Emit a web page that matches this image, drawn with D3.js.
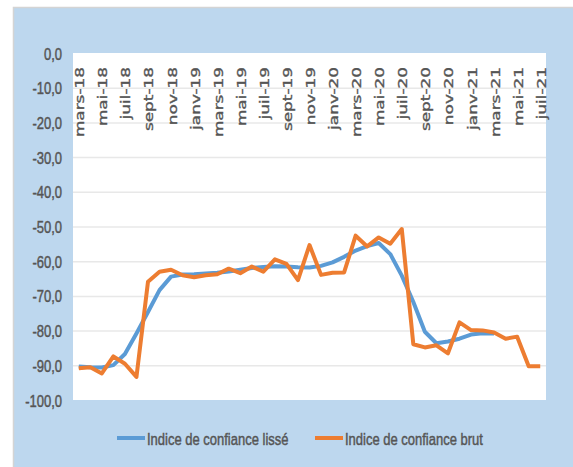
<!DOCTYPE html>
<html>

<head>
    <title>Indice de confiance</title>
    <meta charset="utf-8">
    <script src="https://cdnjs.cloudflare.com/ajax/libs/d3/7.8.5/d3.min.js" type="text/JavaScript"></script>
    <style>
        body { margin: 0; background: #fff; }
        svg { display: block; }
        .ylab { font-family: "Liberation Sans", Arial, sans-serif; font-size: 13px; fill: #555; stroke: #555; stroke-width: 0.35px; }
        .xlab { font-family: "DejaVu Sans", Verdana, sans-serif; font-size: 13px; fill: #555; stroke: #555; stroke-width: 0.35px; }
        .leg { font-family: "Liberation Sans", Arial, sans-serif; font-size: 13px; fill: #555; stroke: #555; stroke-width: 0.35px; }
    </style>
</head>

<body>
    <svg width="573" height="467"></svg>
    <script>
        // months mars-18 .. juil-21
        var months = ["mars-18", "avr-18", "mai-18", "juin-18", "juil-18", "août-18", "sept-18", "oct-18", "nov-18", "déc-18",
            "janv-19", "févr-19", "mars-19", "avr-19", "mai-19", "juin-19", "juil-19", "août-19", "sept-19", "oct-19", "nov-19", "déc-19",
            "janv-20", "févr-20", "mars-20", "avr-20", "mai-20", "juin-20", "juil-20", "août-20", "sept-20", "oct-20", "nov-20", "déc-20",
            "janv-21", "févr-21", "mars-21", "avr-21", "mai-21", "juin-21", "juil-21"];

        var lisse = [-90.2, -90.4, -90.5, -89.8, -86.6, -80.7, -74.5, -68.2, -64.3, -63.7,
            -63.6, -63.4, -63.2, -62.8, -62.3, -61.8, -61.5, -61.3, -61.4, -61.6, -61.7, -61.2,
            -60.2, -58.6, -56.8, -55.5, -54.6, -57.8, -64.0, -71.6, -80.2, -83.5, -83.0, -82.2,
            -81.0, -80.6, -80.7, null, null, null, null];

        var brut = [-90.7, -90.4, -92.2, -87.3, -89.4, -93.2, -65.8, -62.9, -62.3, -63.9,
            -64.5, -63.9, -63.6, -62.0, -63.3, -61.4, -62.9, -59.3, -60.6, -65.3, -55.2, -63.8,
            -63.2, -63.1, -52.5, -55.6, -53.0, -54.8, -50.6, -83.8, -84.7, -84.1, -86.4, -77.5,
            -79.7, -79.8, -80.4, -82.2, -81.6, -90.1, -90.1];

        var yTicks = [0, -10, -20, -30, -40, -50, -60, -70, -80, -90, -100];
        var seriesNames = ["Indice de confiance lissé", "Indice de confiance brut"];
        var seriesColors = ["#5b9bd5", "#ed7d31"];

        var svg = d3.select("svg");

        // outer chart area
        svg.append("rect")
            .attr("x", 13.5).attr("y", 7.5)
            .attr("width", 575).attr("height", 475)
            .style("fill", "#bdd7ee")
            .style("stroke", "#d4d4d4")
            .style("stroke-width", 1.5);

        var plotL = 73, plotR = 546, plotT = 53, plotB = 400;

        svg.append("rect")
            .attr("x", plotL).attr("y", plotT)
            .attr("width", plotR - plotL).attr("height", plotB - plotT)
            .style("fill", "#fff");

        var x = d3.scalePoint().domain(months).range([plotL, plotR]).padding(0.5);
        var y = d3.scaleLinear().domain([-100, 0]).range([plotB + 0.5, plotT + 0.5]);

        // gridlines
        svg.append("g").selectAll("line")
            .data(yTicks.filter(function(d) { return d !== 0 && d !== -100; }))
            .enter().append("line")
            .attr("x1", plotL).attr("x2", plotR)
            .attr("y1", function(d) { return y(d); })
            .attr("y2", function(d) { return y(d); })
            .style("stroke", "#e8e8e8")
            .style("stroke-width", 1.5);

        // y labels
        svg.append("g").selectAll("text")
            .data(yTicks)
            .enter().append("text")
            .attr("class", "ylab")
            .attr("text-anchor", "end")
            .attr("transform", function(d) { return "translate(62," + (y(d) + 6) + ") scale(1,1.3)"; })
            .text(function(d) { return d3.format(".1f")(d).replace(".", ",").replace("−", "-"); });

        // x labels every other month
        svg.append("g").selectAll("text")
            .data(months.filter(function(d, i) { return i % 2 === 0; }))
            .enter().append("text")
            .attr("class", "xlab")
            .attr("text-anchor", "end")
            .attr("transform", function(d) { return "translate(" + (x(d) + 5.5) + ",67) rotate(-90) scale(1.3,1)"; })
            .text(function(d) { return d; });

        var line = d3.line()
            .defined(function(d) { return d[1] !== null; })
            .x(function(d) { return x(d[0]); })
            .y(function(d) { return y(d[1]); });

        [lisse, brut].forEach(function(s, k) {
            svg.append("path")
                .datum(months.map(function(m, i) { return [m, s[i]]; }))
                .attr("d", line)
                .style("fill", "none")
                .style("stroke", seriesColors[k])
                .style("stroke-width", 4)
                .style("stroke-linejoin", "round");
        });

        // legend
        var legX = [117, 315];
        seriesNames.forEach(function(n, k) {
            svg.append("line")
                .attr("x1", legX[k]).attr("x2", legX[k] + 28)
                .attr("y1", 438).attr("y2", 438)
                .style("stroke", seriesColors[k])
                .style("stroke-width", 4);
            svg.append("text")
                .attr("class", "leg")
                .attr("transform", "translate(" + (legX[k] + 30) + ",444.5) scale(1,1.3)")
                .text(n);
        });
    </script>
</body>

</html>
